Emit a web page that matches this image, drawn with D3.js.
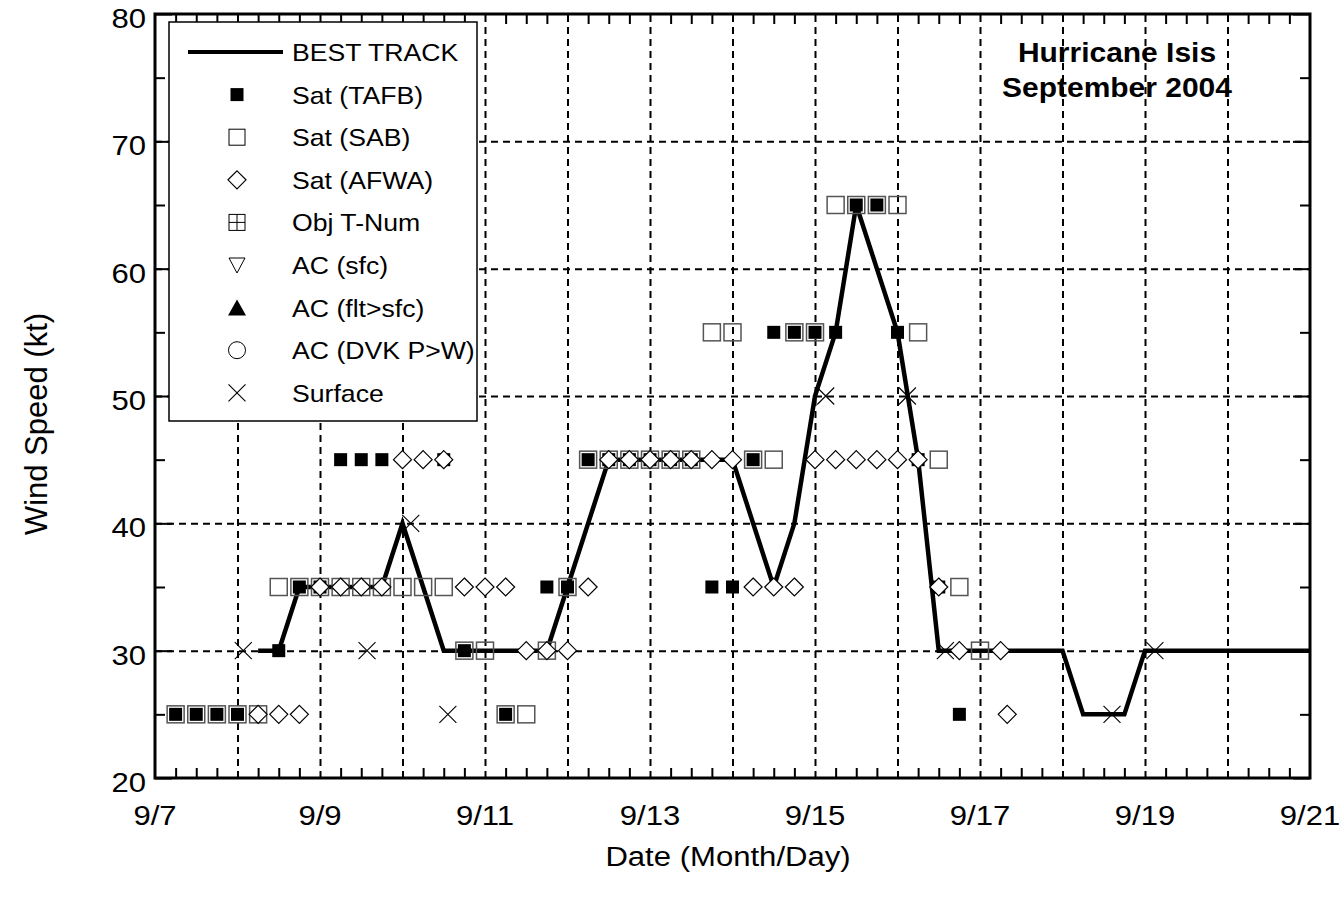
<!DOCTYPE html>
<html><head><meta charset="utf-8">
<script src="https://cdn.jsdelivr.net/npm/d3@7"></script>
<style>body{margin:0;background:#fff} svg{display:block} text{font-family:"Liberation Sans",Arial,sans-serif;fill:#000}</style>
</head><body><svg id="c" width="1344" height="902"></svg>
<script>
// ---------- data (day of September, knots) ----------
const xTickDays = [7, 9, 11, 13, 15, 17, 19, 21];
const xTickLabels = ["9/7", "9/9", "9/11", "9/13", "9/15", "9/17", "9/19", "9/21"];
const yTickValues = [20, 30, 40, 50, 60, 70, 80];

const bestTrackDays = [8.25, 8.5, 8.75, 9.0, 9.25, 9.5, 9.75, 10.0, 10.25, 10.5, 10.75, 11.0, 11.25, 11.5, 11.75, 12.0, 12.25, 12.5, 12.75, 13.0, 13.25, 13.5, 13.75, 14.0, 14.25, 14.5, 14.75, 15.0, 15.25, 15.5, 15.75, 16.0, 16.25, 16.5, 16.75, 17.0, 17.25, 17.5, 17.75, 18.0, 18.25, 18.5, 18.75, 19.0, 19.5, 20.0, 20.5, 21.0];
const bestTrackKt = [30, 30, 35, 35, 35, 35, 35, 40, 35, 30, 30, 30, 30, 30, 30, 35, 40, 45, 45, 45, 45, 45, 45, 45, 40, 35, 40, 50, 55, 65, 60, 55, 45, 30, 30, 30, 30, 30, 30, 30, 25, 25, 25, 30, 30, 30, 30, 30];

const tafbDays = [7.25, 7.5, 7.75, 8.0, 8.5, 8.75, 9.0, 9.25, 9.5, 9.75, 10.5, 10.75, 11.25, 11.75, 12.0, 12.25, 12.5, 12.75, 13.0, 13.25, 13.5, 13.75, 14.0, 14.25, 14.5, 14.75, 15.0, 15.25, 15.5, 15.75, 16.0, 16.25, 16.5, 16.75];
const tafbKt = [25, 25, 25, 25, 30, 35, 35, 45, 45, 45, 45, 30, 25, 35, 35, 45, 45, 45, 45, 45, 45, 35, 35, 45, 55, 55, 55, 55, 65, 65, 55, 45, 35, 25];

const sabDays = [7.25, 7.5, 7.75, 8.0, 8.25, 8.5, 8.75, 9.0, 9.25, 9.5, 9.75, 10.0, 10.25, 10.5, 10.75, 11.0, 11.25, 11.5, 11.75, 12.0, 12.25, 12.5, 12.75, 13.0, 13.25, 13.5, 13.75, 14.0, 14.25, 14.5, 14.75, 15.0, 15.25, 15.5, 15.75, 16.0, 16.25, 16.5, 16.75, 17.0];
const sabKt = [25, 25, 25, 25, 25, 35, 35, 35, 35, 35, 35, 35, 35, 35, 30, 30, 25, 25, 30, 35, 45, 45, 45, 45, 45, 45, 55, 55, 45, 45, 55, 55, 65, 65, 65, 65, 55, 45, 35, 30];

const afwaDays = [8.25, 8.5, 8.75, 9.0, 9.25, 9.5, 9.75, 10.0, 10.25, 10.5, 10.75, 11.0, 11.25, 11.5, 11.75, 12.0, 12.25, 12.5, 12.75, 13.0, 13.25, 13.5, 13.75, 14.0, 14.25, 14.5, 14.75, 15.0, 15.25, 15.5, 15.75, 16.0, 16.25, 16.5, 16.75, 17.25, 17.33];
const afwaKt = [25, 25, 25, 35, 35, 35, 35, 45, 45, 45, 35, 35, 35, 30, 30, 30, 35, 45, 45, 45, 45, 45, 45, 45, 35, 35, 35, 45, 45, 45, 45, 45, 45, 35, 30, 30, 25];

const surfaceDays = [8.07, 9.57, 10.1, 10.55, 15.13, 16.12, 16.58, 18.6, 19.12];
const surfaceKt = [30, 30, 40, 25, 50, 50, 30, 25, 30];

const legendLabels = ["BEST TRACK", "Sat (TAFB)", "Sat (SAB)", "Sat (AFWA)", "Obj T-Num", "AC (sfc)", "AC (flt>sfc)", "AC (DVK P>W)", "Surface"];
const legendKinds = ["line", "tafb", "sab", "afwa", "obj", "acsfc", "acflt", "dvk", "surface"];
const titleLines = ["Hurricane Isis", "September 2004"];
const xAxisTitle = "Date (Month/Day)";
const yAxisTitle = "Wind Speed (kt)";

// ---------- layout ----------
const L = 155, R = 1310, T = 14, B = 778;
const SX = 1.11; // horizontal text stretch seen in the reference
const svg = d3.select("#c");
const x = d3.scaleLinear().domain([7, 21]).range([L, R]);
const y = d3.scaleLinear().domain([20, 80]).range([B, T]);

function stext(parent, px, py, str, size, anchor, weight, rot) {
  return parent.append("text")
    .attr("transform", `translate(${px},${py})` + (rot ? ` rotate(${rot})` : "") + (rot ? "" : ` scale(${SX},1)`))
    .attr("text-anchor", anchor || "start")
    .attr("font-size", size)
    .attr("font-weight", weight || "normal")
    .text(str);
}

// ---------- grid ----------
function styleGrid(g) {
  g.select(".domain").remove();
  g.selectAll("line").attr("stroke", "#000").attr("stroke-width", 2).attr("stroke-dasharray", "7,5");
}
svg.append("g").attr("transform", `translate(0,${B})`)
  .call(d3.axisBottom(x).tickValues(d3.range(8, 21)).tickSize(-(B - T)).tickFormat(""))
  .call(styleGrid);
svg.append("g").attr("transform", `translate(${L},0)`)
  .call(d3.axisLeft(y).tickValues([30, 40, 50, 60, 70]).tickSize(-(R - L)).tickFormat(""))
  .call(styleGrid);

// ---------- ticks ----------
function styleTicks(g) {
  g.select(".domain").remove();
  g.selectAll("line").attr("stroke", "#000").attr("stroke-width", 2);
}
const minorX = d3.range(7, 21, 0.25).filter(d => Math.abs(d - Math.round(d)) > 0.01);
svg.append("g").attr("transform", `translate(0,${B})`)
  .call(d3.axisBottom(x).tickValues(minorX).tickSize(-10).tickFormat("")).call(styleTicks);
svg.append("g").attr("transform", `translate(0,${T})`)
  .call(d3.axisTop(x).tickValues(minorX).tickSize(-10).tickFormat("")).call(styleTicks);
const minorY = [25, 35, 45, 55, 65, 75];
svg.append("g").attr("transform", `translate(${L},0)`)
  .call(d3.axisLeft(y).tickValues(minorY).tickSize(-10).tickFormat("")).call(styleTicks);
svg.append("g").attr("transform", `translate(${R},0)`)
  .call(d3.axisRight(y).tickValues(minorY).tickSize(-10).tickFormat("")).call(styleTicks);
svg.append("g").attr("transform", `translate(${L},0)`)
  .call(d3.axisLeft(y).tickValues(yTickValues).tickSize(-17).tickFormat("")).call(styleTicks);
svg.append("g").attr("transform", `translate(${R},0)`)
  .call(d3.axisRight(y).tickValues(yTickValues).tickSize(-17).tickFormat("")).call(styleTicks);

// ---------- frame ----------
svg.append("rect").attr("x", L).attr("y", T).attr("width", R - L).attr("height", B - T)
  .attr("fill", "none").attr("stroke", "#000").attr("stroke-width", 3);

// ---------- tick labels ----------
const tl = svg.append("g");
xTickDays.forEach((d, i) => stext(tl, x(d), 825, xTickLabels[i], 28, "middle"));
yTickValues.forEach(v => stext(tl, 146, y(v) + 14, String(v), 28, "end"));

// ---------- axis titles ----------
stext(svg, 728, 866, xAxisTitle, 28, "middle");
stext(svg, 47, 424, yAxisTitle, 31, "middle", "normal", -90);

// ---------- best track ----------
const line = d3.line().x(d => x(d[0])).y(d => y(d[1]));
svg.append("path").datum(bestTrackDays.map((d, i) => [d, bestTrackKt[i]]))
  .attr("d", line).attr("fill", "none").attr("stroke", "#000").attr("stroke-width", 4.5)
  .attr("stroke-linejoin", "miter");

// ---------- markers ----------
const SQ = 13, BOX = 17, DI = 9, XS = 8.5;
function drawTafb(g, cx, cy) {
  g.append("rect").attr("x", cx - SQ / 2).attr("y", cy - SQ / 2).attr("width", SQ).attr("height", SQ).attr("fill", "#000");
}
function drawSab(g, cx, cy) {
  g.append("rect").attr("x", cx - BOX / 2).attr("y", cy - BOX / 2).attr("width", BOX).attr("height", BOX)
    .attr("fill", "none").attr("stroke", "#555").attr("stroke-width", 1.5);
}
function drawAfwa(g, cx, cy) {
  g.append("path").attr("d", `M${cx},${cy - DI}L${cx + DI},${cy}L${cx},${cy + DI}L${cx - DI},${cy}Z`)
    .attr("fill", "#fff").attr("stroke", "#000").attr("stroke-width", 1.2);
}
function drawX(g, cx, cy) {
  g.append("path").attr("d", `M${cx - XS},${cy - XS}L${cx + XS},${cy + XS}M${cx - XS},${cy + XS}L${cx + XS},${cy - XS}`)
    .attr("stroke", "#000").attr("stroke-width", 1.1).attr("fill", "none");
}
const mk = svg.append("g");
tafbDays.forEach((d, i) => drawTafb(mk, x(d), y(tafbKt[i])));
sabDays.forEach((d, i) => drawSab(mk, x(d), y(sabKt[i])));
afwaDays.forEach((d, i) => drawAfwa(mk, x(d), y(afwaKt[i])));
surfaceDays.forEach((d, i) => drawX(mk, x(d), y(surfaceKt[i])));

// ---------- legend ----------
const lg = svg.append("g");
lg.append("rect").attr("x", 169).attr("y", 22).attr("width", 308).attr("height", 399)
  .attr("fill", "#fff").attr("stroke", "#000").attr("stroke-width", 1.5);
legendLabels.forEach((lab, i) => {
  const cy = 52 + i * 42.6, cx = 237;
  const k = legendKinds[i];
  if (k === "line") lg.append("line").attr("x1", 188).attr("x2", 283).attr("y1", cy).attr("y2", cy).attr("stroke", "#000").attr("stroke-width", 4);
  else if (k === "tafb") drawTafb(lg, cx, cy);
  else if (k === "sab") lg.append("rect").attr("x", cx - 8).attr("y", cy - 8).attr("width", 16).attr("height", 16).attr("fill", "none").attr("stroke", "#000").attr("stroke-width", 1);
  else if (k === "afwa") drawAfwa(lg, cx, cy);
  else if (k === "obj") {
    lg.append("rect").attr("x", cx - 8).attr("y", cy - 8).attr("width", 16).attr("height", 16).attr("fill", "none").attr("stroke", "#000").attr("stroke-width", 1);
    lg.append("path").attr("d", `M${cx},${cy - 8}V${cy + 8}M${cx - 8},${cy}H${cx + 8}`).attr("stroke", "#000").attr("stroke-width", 1);
  }
  else if (k === "acsfc") lg.append("path").attr("d", `M${cx - 8},${cy - 7}L${cx + 8},${cy - 7}L${cx},${cy + 8}Z`).attr("fill", "none").attr("stroke", "#000").attr("stroke-width", 1);
  else if (k === "acflt") lg.append("path").attr("d", `M${cx - 9},${cy + 8}L${cx + 9},${cy + 8}L${cx},${cy - 8}Z`).attr("fill", "#000");
  else if (k === "dvk") lg.append("circle").attr("cx", cx).attr("cy", cy).attr("r", 8.5).attr("fill", "none").attr("stroke", "#000").attr("stroke-width", 1);
  else if (k === "surface") drawX(lg, cx, cy);
  stext(lg, 292, cy + 9, lab, 24, "start");
});

// ---------- title ----------
titleLines.forEach((t, i) => stext(svg, 1117, 62 + i * 35, t, 27, "middle", "bold"));
</script></body></html>
